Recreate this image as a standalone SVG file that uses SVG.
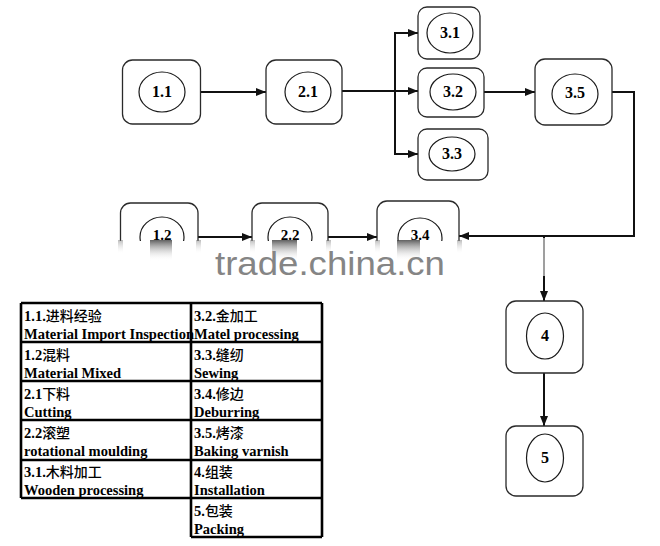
<svg xmlns="http://www.w3.org/2000/svg" width="660" height="546" viewBox="0 0 660 546">
<style>
.box{fill:#fff;stroke:#2a2a2a;stroke-width:1.3}
.ell{fill:none;stroke:#1a1a1a;stroke-width:1.2}
.lbl{font-family:"Liberation Serif","Times New Roman",serif;font-weight:bold;font-size:16px;fill:#000;text-anchor:middle}
.lbls{font-size:15px}
.con{fill:none;stroke:#111;stroke-width:2}
.tl{stroke:#000;stroke-width:2.6;fill:none}
.tt{font-family:"Liberation Serif","Noto Sans CJK SC",serif;font-weight:bold;font-size:14.5px;fill:#000}
.cn{font-family:"Noto Sans CJK SC",sans-serif;font-weight:500;font-size:14px}
.wm{font-family:"Liberation Sans",Arial,sans-serif;font-size:33px;fill:#858585}
</style>
<defs>
<marker id="ah" markerUnits="userSpaceOnUse" markerWidth="10" markerHeight="8" refX="10" refY="4" orient="auto">
<path d="M0,0 L10,4 L0,8 z" fill="#111"/>
</marker>
<clipPath id="cut"><rect x="0" y="0" width="660" height="241"/></clipPath>
<linearGradient id="blob" x1="0" y1="0" x2="0" y2="1">
<stop offset="0" stop-color="#444" stop-opacity="0.85"/>
<stop offset="1" stop-color="#fff" stop-opacity="0"/>
</linearGradient>
<linearGradient id="side" x1="0" y1="0" x2="0" y2="1">
<stop offset="0" stop-color="#777" stop-opacity="0.5"/>
<stop offset="1" stop-color="#fff" stop-opacity="0"/>
</linearGradient>
</defs>
<rect width="660" height="546" fill="#fff"/>

<g id="connectors">
<path class="con" d="M200.5,92 H266" marker-end="url(#ah)"/>
<path class="con" d="M342,91 H418" marker-end="url(#ah)"/>
<path class="con" d="M395,33 V154"/>
<path class="con" d="M394,33 H418" marker-end="url(#ah)"/>
<path class="con" d="M394,154 H418" marker-end="url(#ah)"/>
<path class="con" d="M484,92 H535" marker-end="url(#ah)"/>
<path class="con" d="M612,92 H634 V236 H459" marker-end="url(#ah)"/>
<path class="con" d="M544,236 V301" marker-end="url(#ah)"/>
<path class="con" d="M544,373 V426" marker-end="url(#ah)"/>
<path class="con" d="M198,237 H252" marker-end="url(#ah)"/>
<path class="con" d="M328,237 H377" marker-end="url(#ah)"/>
</g>

<g id="n11"><rect class="box" x="122.5" y="60" width="78" height="64" rx="10"/><ellipse class="ell" cx="162" cy="92" rx="23" ry="20"/><text class="lbl" x="162" y="97">1.1</text></g>
<g id="n21"><rect class="box" x="266" y="60" width="76" height="64" rx="10"/><ellipse class="ell" cx="308" cy="92" rx="23" ry="20"/><text class="lbl" x="308" y="97">2.1</text></g>
<g id="n31"><rect class="box" x="418" y="7" width="62" height="52" rx="9"/><ellipse class="ell" cx="450" cy="33" rx="23" ry="20"/><text class="lbl" x="450" y="38">3.1</text></g>
<g id="n32"><rect class="box" x="418" y="68" width="66" height="49" rx="9"/><ellipse class="ell" cx="453" cy="92" rx="23" ry="18"/><text class="lbl" x="453" y="97">3.2</text></g>
<g id="n33"><rect class="box" x="418" y="129" width="70" height="51" rx="9"/><ellipse class="ell" cx="452" cy="154" rx="23" ry="17"/><text class="lbl" x="452" y="159">3.3</text></g>
<g id="n35"><rect class="box" x="535" y="59" width="77" height="66" rx="10"/><ellipse class="ell" cx="575" cy="94" rx="23" ry="20"/><text class="lbl" x="575" y="98">3.5</text></g>

<g clip-path="url(#cut)">
<g id="n12"><rect class="box" x="120.5" y="203" width="77.5" height="70" rx="10"/><ellipse class="ell" cx="162" cy="237" rx="22" ry="20"/><text class="lbl lbls" x="162" y="240">1.2</text></g>
<g id="n22"><rect class="box" x="252" y="203" width="76" height="70" rx="10"/><ellipse class="ell" cx="290" cy="237" rx="22" ry="20"/><text class="lbl lbls" x="290" y="240">2.2</text></g>
<g id="n34"><rect class="box" x="377" y="201" width="82" height="70" rx="10"/><ellipse class="ell" cx="420" cy="238" rx="22" ry="20"/><text class="lbl lbls" x="420" y="240">3.4</text></g>
</g>

<g id="n4"><rect class="box" x="506" y="301" width="77" height="72" rx="10"/><ellipse class="ell" cx="545" cy="336" rx="18.5" ry="23"/><text class="lbl" x="545" y="341">4</text></g>
<g id="n5"><rect class="box" x="506" y="426" width="77" height="70" rx="10"/><ellipse class="ell" cx="545" cy="458" rx="18.5" ry="24"/><text class="lbl" x="545" y="463">5</text></g>

<g id="watermark">
<rect x="538" y="238" width="14" height="38" fill="#fff" opacity="0.6"/>
<rect x="150" y="240" width="22" height="21" fill="url(#blob)"/>
<rect x="272" y="240" width="25" height="21" fill="url(#blob)"/>
<rect x="397" y="240" width="23" height="21" fill="url(#blob)"/>
<rect x="118" y="240" width="5" height="14" fill="url(#side)"/>
<rect x="196" y="240" width="5" height="14" fill="url(#side)"/>
<rect x="250" y="240" width="5" height="14" fill="url(#side)"/>
<rect x="326" y="240" width="5" height="14" fill="url(#side)"/>
<rect x="375" y="240" width="5" height="14" fill="url(#side)"/>
<rect x="457" y="240" width="5" height="14" fill="url(#side)"/>
<text class="wm" x="215" y="275" textLength="230" lengthAdjust="spacingAndGlyphs">trade.china.cn</text>
</g>

<g id="legend">
<path class="tl" d="M21,303 H322 M21,342 H322 M21,381 H322 M21,420 H322 M21,460 H322 M21,498 H322 M191,537 H322 M21,303 V498 M191,303 V537 M322,303 V537"/>
<text class="tt" x="24" y="321">1.1.<tspan class="cn">进料经验</tspan></text>
<text class="tt" x="24" y="339">Material Import Inspection</text>
<text class="tt" x="24" y="360">1.2<tspan class="cn">混料</tspan></text>
<text class="tt" x="24" y="378">Material Mixed</text>
<text class="tt" x="24" y="399">2.1<tspan class="cn">下料</tspan></text>
<text class="tt" x="24" y="417">Cutting</text>
<text class="tt" x="24" y="438">2.2<tspan class="cn">滚塑</tspan></text>
<text class="tt" x="24" y="456">rotational moulding</text>
<text class="tt" x="24" y="477">3.1.<tspan class="cn">木料加工</tspan></text>
<text class="tt" x="24" y="495">Wooden processing</text>
<text class="tt" x="194" y="321">3.2.<tspan class="cn">金加工</tspan></text>
<text class="tt" x="194" y="339">Matel processing</text>
<text class="tt" x="194" y="360">3.3.<tspan class="cn">缝纫</tspan></text>
<text class="tt" x="194" y="378">Sewing</text>
<text class="tt" x="194" y="399">3.4.<tspan class="cn">修边</tspan></text>
<text class="tt" x="194" y="417">Deburring</text>
<text class="tt" x="194" y="438">3.5.<tspan class="cn">烤漆</tspan></text>
<text class="tt" x="194" y="456">Baking varnish</text>
<text class="tt" x="194" y="477">4.<tspan class="cn">组装</tspan></text>
<text class="tt" x="194" y="495">Installation</text>
<text class="tt" x="194" y="516">5.<tspan class="cn">包装</tspan></text>
<text class="tt" x="194" y="534">Packing</text>
</g>
</svg>
